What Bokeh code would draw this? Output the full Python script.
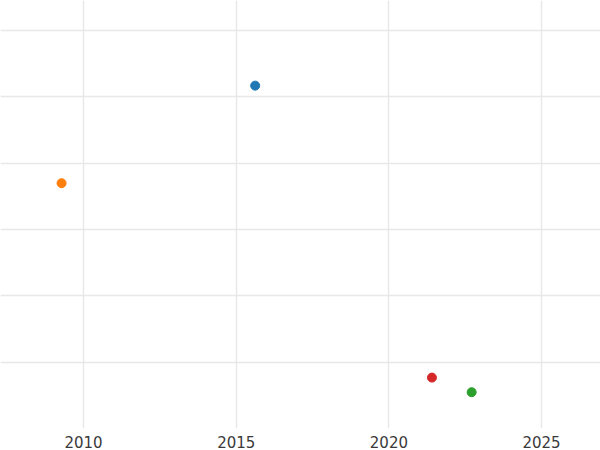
from bokeh.plotting import figure
from bokeh.models import ColumnDataSource, FixedTicker, Range1d
from bokeh.embed import file_html
from bokeh.resources import INLINE

years = [2015.62, 2009.28, 2021.41, 2022.71]
values = [51.7, 37.0, 7.7, 5.5]
colors = ["#1f77b4", "#ff7f0e", "#d62728", "#2ca02c"]
x_ticks = [2010, 2015, 2020, 2025]
y_ticks = [10, 20, 30, 40, 50, 60]

src = ColumnDataSource(dict(x=years, y=values, c=colors))

p = figure(width=600, height=450, output_backend="svg", toolbar_location=None,
           x_range=Range1d(2007.28, 2026.93), y_range=Range1d(0.03, 64.53),
           min_border_left=0, min_border_right=0, min_border_top=0, min_border_bottom=0)
p.scatter("x", "y", source=src, color="c", size=9)

p.xaxis.ticker = FixedTicker(ticks=x_ticks)
p.yaxis.ticker = FixedTicker(ticks=y_ticks)
p.yaxis.visible = False
p.xaxis.axis_line_color = None
p.xaxis.major_tick_line_color = None
p.xaxis.minor_tick_line_color = None
p.xaxis.major_label_text_font = "DejaVu Sans"
p.xaxis.major_label_text_font_size = "15px"
p.xaxis.major_label_text_color = "#3a3a3a"
p.xaxis.major_label_standoff = 1
p.xgrid.grid_line_color = "#e8e8e8"
p.ygrid.grid_line_color = "#e8e8e8"
p.xgrid.grid_line_width = 1.5
p.ygrid.grid_line_width = 1.5
p.outline_line_color = None

open("out.html", "w").write(file_html(p, INLINE))
